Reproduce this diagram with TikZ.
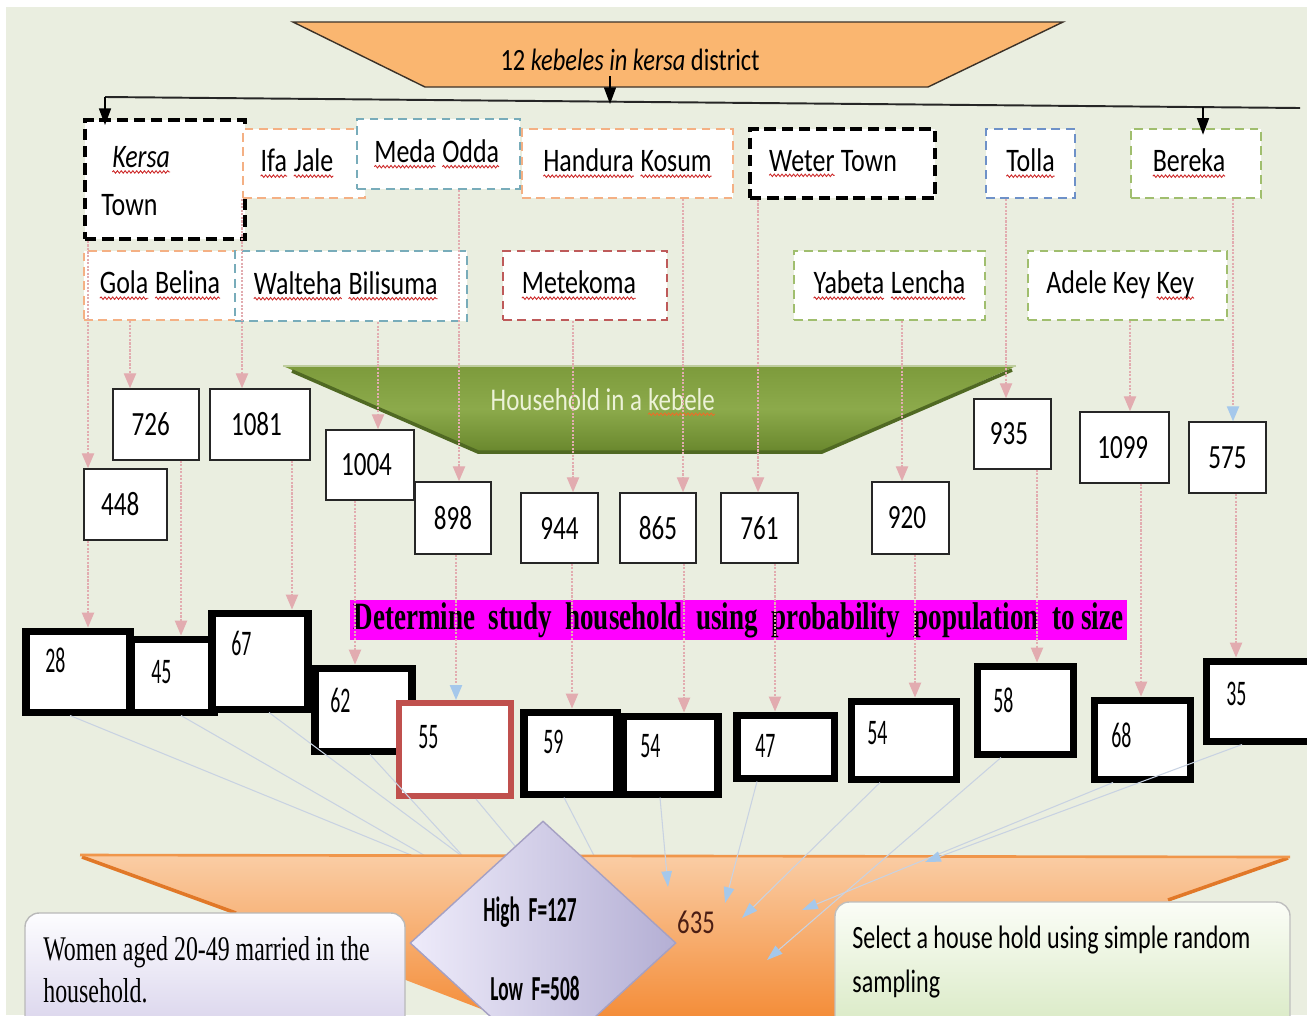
\documentclass[tikz,border=0pt]{standalone}
\usepackage{fontspec}
\usetikzlibrary{arrows.meta,calc,shapes.geometric,decorations.pathmorphing}
\setmainfont{Carlito}
\newfontfamily\labf[FakeStretch=0.79]{Carlito}
\newfontfamily\numf[FakeStretch=0.74]{Carlito}
\newfontfamily\narf[FakeStretch=0.55]{Carlito}
\newfontfamily\serf[FakeStretch=0.69]{Liberation Serif}
\newfontfamily\bserf[FakeStretch=0.70]{Liberation Serif}
\definecolor{bgc}{RGB}{234,238,224}
\definecolor{orT}{RGB}{250,182,112}
\definecolor{orTd}{RGB}{60,50,40}
\definecolor{orD}{RGB}{244,176,132}
\definecolor{tealD}{RGB}{120,172,186}
\definecolor{blueD}{RGB}{110,145,200}
\definecolor{greenD}{RGB}{160,190,110}
\definecolor{redD}{RGB}{190,90,90}
\definecolor{grT}{RGB}{125,155,60}
\definecolor{grM}{RGB}{140,170,75}
\definecolor{grB}{RGB}{105,135,45}
\definecolor{grD}{RGB}{80,105,35}
\definecolor{grTx}{RGB}{236,242,215}
\definecolor{pinkc}{RGB}{226,172,176}
\definecolor{bluel}{RGB}{200,210,226}
\definecolor{bluea}{RGB}{165,200,235}
\definecolor{magc}{RGB}{255,0,255}
\definecolor{red55}{RGB}{192,80,77}
\definecolor{orB1}{RGB}{250,205,165}
\definecolor{orB2}{RGB}{244,140,55}
\definecolor{orBe}{RGB}{240,150,75}
\definecolor{orBd}{RGB}{225,120,40}
\definecolor{dmL}{RGB}{238,235,250}
\definecolor{dmR}{RGB}{180,175,212}
\definecolor{dmD}{RGB}{165,160,195}
\definecolor{wmT}{RGB}{253,253,255}
\definecolor{wmB}{RGB}{214,208,234}
\definecolor{slT}{RGB}{251,253,247}
\definecolor{slB}{RGB}{214,232,192}
\definecolor{wavec}{RGB}{205,40,40}
\definecolor{waveo}{RGB}{235,110,40}
\definecolor{t635}{RGB}{75,30,20}
\newcommand\wvbase[2]{\tikz[baseline=(w.base)]{\node[shape=rectangle, inner sep=0pt, outer sep=0pt, minimum width=0pt, minimum height=0pt, draw=none, fill=none](w){#2}; \draw[draw=#1, fill=none, solid, line width=0.5pt, decorate, decoration={snake, amplitude=0.7pt, segment length=2.2pt}] ([yshift=-2.4pt]w.base west) -- ([yshift=-2.4pt]w.base east);}}
\newcommand\wv[1]{\wvbase{wavec}{#1}}
\newcommand\wvo[1]{\wvbase{waveo}{#1}}
\newcommand\mkbox[7]{\node[#2, minimum width={(#5-#3)*0.02cm}, minimum height={(#6-#4)*0.02cm}] (#1) at ({(#3+#5)/2},{(#4+#6)/2}) {#7};}
\begin{document}
\begin{tikzpicture}[x=0.02cm,y=-0.02cm,
  kb/.style={draw=#1, fill=white, line width=1.5pt, dash pattern=on 5pt off 3.2pt, inner sep=0pt, font=\labf\fontsize{18.7}{22}\selectfont},
  kbk/.style={draw=black, fill=white, line width=2.2pt, dash pattern=on 6.5pt off 3.3pt, inner sep=0pt, font=\labf\fontsize{18.7}{22}\selectfont},
  nb/.style={draw=black!85, fill=white, line width=0.9pt, inner sep=0pt, font=\numf\fontsize{19.3}{22}\selectfont},
  tb/.style={draw=#1, fill=white, line width=4pt, inner sep=0pt},
  tn/.style={anchor=west, inner sep=0pt, font=\narf\fontsize{20.5}{24}\selectfont},
  pc/.style={draw=pinkc, line width=0.8pt, dash pattern=on 1.2pt off 0.8pt, -{Triangle[width=7pt,length=8.5pt,color=pinkc,fill=pinkc]}},
  pcb/.style={draw=pinkc, line width=0.8pt, dash pattern=on 1.2pt off 0.8pt, -{Triangle[width=7pt,length=8.5pt,color=bluea,fill=bluea]}},
  bc/.style={draw=bluel, line width=0.6pt, -{Triangle[width=6pt,length=9pt,color=bluea,fill=bluea]}},
  bcn/.style={draw=bluel, line width=0.6pt},
  ka/.style={draw=black, line width=1pt, -{Triangle[width=6.8pt,length=9.5pt]}},
  banner/.style={fill=magc, inner sep=0pt, font=\bserf\bfseries\fontsize{22}{24}\selectfont},
  wbox/.style={draw=gray!55, top color=wmT, bottom color=wmB, rounded corners=8pt, inner sep=0pt, line width=0.8pt},
  sbox/.style={draw=gray!50, top color=slT, bottom color=slB, rounded corners=8pt, inner sep=0pt, line width=0.8pt}]
\useasboundingbox (0,0) rectangle (1307,1015);
% background
\fill[white] (0,0) rectangle (1307,1015);
\fill[bgc] (6,7) rectangle (1307,1015);
% top trapezoid
\filldraw[fill=orT, draw=orTd, line width=0.8pt] (293,22) -- (1063,22) -- (928,87) -- (425,87) -- cycle;
\node[font=\labf\fontsize{17.6}{20}\selectfont] (ttl) at (630,60) {12 \textit{kebeles in kersa} district};
% green trapezoid
\shade[top color=grT, bottom color=grB, middle color=grM] (283,366) -- (1016,366) -- (822,452) -- (478,452) -- cycle;
\draw[grD, line width=2pt] (292,371) -- (478,452) -- (822,452) -- (1012,370);
\draw[grT!50!white, line width=1pt] (283,366) -- (1016,366);
\node[font=\labf\fontsize{18}{20}\selectfont, text=grTx] (hh) at (603,402) {Household in a \wvo{kebele}};
% banner
\mkbox{det}{banner}{350}{600}{1127}{640}{Determine\ \ study\ \ household\ \ using\ \ probability\ \ population\ \ to size}
% kebele boxes
\mkbox{kersa}{kbk}{85}{120}{245}{239}{}
\node[anchor=west, align=left, inner sep=0pt, font=\labf\fontsize{18.7}{27}\selectfont] (kersaT) at (101,181) {\hspace*{6pt}\textit{\wv{Kersa}}\\Town};
\mkbox{ifa}{kb=orD}{243}{129}{365}{198}{\raisebox{-2pt}{\wv{Ifa} \wv{Jale}}\hspace*{8pt}}
\mkbox{meda}{kb=tealD}{357}{119}{520}{189}{\wv{Meda} \wv{Odda}\hspace*{2pt}}
\mkbox{handura}{kb=orD}{522}{129}{733}{198}{\raisebox{-2pt}{\wv{Handura} \wv{Kosum}}}
\mkbox{weter}{kbk}{750}{129}{935}{198}{\raisebox{-2pt}{\wv{Weter} Town}\hspace*{11pt}}
\mkbox{tolla}{kb=blueD}{986}{129}{1075}{198}{\raisebox{-2pt}{\wv{Tolla}}}
\mkbox{bereka}{kb=greenD}{1131}{129}{1261}{198}{\wv{Bereka}\hspace*{8pt}}
\mkbox{gola}{kb=orD}{84}{251}{236}{320}{\raisebox{-2pt}{\wv{Gola} \wv{Belina}}}
\mkbox{walteha}{kb=tealD}{235}{251}{467}{321}{\raisebox{-2pt}{\wv{Walteha} \wv{Bilisuma}}\hspace*{6pt}}
\mkbox{meteko}{kb=redD}{503}{251}{667}{320}{\raisebox{-2pt}{\wv{Metekoma}}\hspace*{7pt}}
\mkbox{yabeta}{kb=greenD}{794}{251}{985}{320}{\raisebox{-2pt}{\wv{Yabeta} \wv{Lencha}}}
\mkbox{adele}{kb=greenD}{1028}{251}{1227}{320}{\raisebox{-2pt}{Adele Key \wv{Key}}\hspace*{8pt}}
% top line and arrows
\coordinate (hlL) at (105,97);
\coordinate (hlR) at (1300,108);
\coordinate (ttb) at (610,76);
\coordinate (hlM) at (610,104);
\coordinate (hlB) at (1203,107);
\draw[line width=1.1pt, black!85] (hlL) -- (hlR);
\draw[ka] (ttb) -- (hlM);
\draw[ka, shorten >=-4pt] (hlL) -- (hlL |- kersa.north);
\draw[ka, shorten >=-4pt] (hlB) -- (hlB |- bereka.north);
% number boxes
\mkbox{n726}{nb}{113}{389}{199}{460}{726\hspace*{6pt}}
\mkbox{n1081}{nb}{210}{389}{310}{460}{1081\hspace*{4pt}}
\mkbox{n448}{nb}{84}{469}{167}{540}{448\hspace*{6pt}}
\mkbox{n1004}{nb}{326}{430}{414}{500}{1004\hspace*{4pt}}
\mkbox{n898}{nb}{415}{482}{491}{554}{898}
\mkbox{n944}{nb}{521}{493}{598}{563}{944}
\mkbox{n865}{nb}{620}{493}{696}{563}{865}
\mkbox{n761}{nb}{721}{493}{798}{563}{761}
\mkbox{n920}{nb}{872}{482}{949}{554}{920\hspace*{4pt}}
\mkbox{n935}{nb}{974}{399}{1051}{469}{935\hspace*{4pt}}
\mkbox{n1099}{nb}{1080}{412}{1169}{483}{1099\hspace*{2pt}}
\mkbox{n575}{nb}{1189}{422}{1266}{493}{575}
% thick boxes
\mkbox{b28}{tb=black}{26}{631}{130}{712}{}
\mkbox{b45}{tb=black}{131}{639}{214}{712}{}
\mkbox{b67}{tb=black}{212}{613}{308}{709}{}
\mkbox{b62}{tb=black}{315}{668}{412}{751}{}
\mkbox{b55}{tb=red55, line width=3.5pt}{399}{703}{511}{796}{}
\mkbox{b59}{tb=black}{524}{712}{617}{794}{}
\mkbox{b54a}{tb=black}{623}{716}{718}{794}{}
\mkbox{b47}{tb=black}{737}{715}{834}{778}{}
\mkbox{b54b}{tb=black}{851}{701}{956}{779}{}
\mkbox{b58}{tb=black}{977}{666}{1073}{754}{}
\mkbox{b68}{tb=black}{1094}{700}{1190}{779}{}
\mkbox{b35}{tb=black}{1206}{661}{1312}{741}{}
\node[tn] (t28) at (45,660) {28};
\node[tn] (t45) at (151,672) {45};
\node[tn] (t67) at (231,643) {67};
\node[tn] (t62) at (330,700) {62};
\node[tn] (t55) at (418,737) {55};
\node[tn] (t59) at (543,742) {59};
\node[tn] (t54a) at (640,746) {54};
\node[tn] (t47) at (755,746) {47};
\node[tn] (t54b) at (867,733) {54};
\node[tn] (t58) at (993,700) {58};
\node[tn] (t68) at (1111,735) {68};
\node[tn] (t35) at (1226,694) {35};
% lines to the bottom (hidden part under the orange band)
\coordinate (eL1) at (521,900);
\coordinate (eL2) at (502,900);
\coordinate (eL3) at (521,900);
\coordinate (eL4) at (503,900);
\coordinate (eL5) at (560,900);
\coordinate (eL6) at (617,900);
\draw[bcn] (b28.south -| 70,0) -- (eL1);
\draw[bcn] (b45.south -| 181,0) -- (eL2);
\draw[bcn] (b67.south -| 269,0) -- (eL3);
\draw[bcn] (b62.south -| 370,0) -- (eL4);
\draw[bcn] (b55.south -| 476,0) -- (eL5);
\draw[bcn] (b59.south -| 564,0) -- (eL6);
% bottom orange band
\shade[top color=orB1, bottom color=orB2] (80,855) -- (1290,857) -- (842,1020) -- (510,1020) -- cycle;
\draw[orBd, line width=2pt] (82,857) -- (236,913);
\draw[orBd, line width=2pt] (1288,858) -- (1168,900);
\draw[orBe, line width=1.5pt] (80,855) -- (1290,857);
% right lines with arrows
\coordinate (eR1) at (668,887);
\coordinate (eR2) at (725,903);
\coordinate (eR3) at (742,918);
\coordinate (eR4) at (767,960);
\coordinate (eR5) at (802,910);
\coordinate (eR6) at (925,862);
\draw[bc] (b54a.south -| 660,0) -- (eR1);
\draw[bc] (b47.south -| 757,0) -- (eR2);
\draw[bc] (b54b.south -| 880,0) -- (eR3);
\draw[bc] (b58.south -| 1001,0) -- (eR4);
\draw[bc] (b68.south -| 1113,0) -- (eR5);
\draw[bc] (b35.south -| 1242,0) -- (eR6);
% pink connectors kebele -> households
\draw[pc] (kersa.south -| 88,0) -- (n448.north -| 88,0);
\draw[pc] (gola.south -| 130,0) -- (n726.north -| 130,0);
\draw[pc] (ifa.south -| 242,0) -- (n1081.north -| 242,0);
\draw[pc] (walteha.south -| 378,0) -- (n1004.north -| 378,0);
\draw[pc] (meda.south -| 459,0) -- (n898.north -| 459,0);
\draw[pc] (meteko.south -| 573,0) -- (n944.north -| 573,0);
\draw[pc] (handura.south -| 683,0) -- (n865.north -| 683,0);
\draw[pc] (weter.south -| 758,0) -- (n761.north -| 758,0);
\draw[pc] (yabeta.south -| 902,0) -- (n920.north -| 902,0);
\draw[pc] (tolla.south -| 1006,0) -- (n935.north -| 1006,0);
\draw[pc] (adele.south -| 1130,0) -- (n1099.north -| 1130,0);
\draw[pcb] (bereka.south -| 1233,0) -- (n575.north -| 1233,0);
% households -> sample sizes
\draw[pc] (n448.south -| 88,0) -- (b28.north -| 88,0);
\draw[pc] (n726.south -| 181,0) -- (b45.north -| 181,0);
\draw[pc] (n1081.south -| 292,0) -- (b67.north -| 292,0);
\draw[pc] (n1004.south -| 355,0) -- (b62.north -| 355,0);
\draw[pcb] (n898.south -| 456,0) -- (b55.north -| 456,0);
\draw[pc] (n944.south -| 572,0) -- (b59.north -| 572,0);
\draw[pc] (n865.south -| 684,0) -- (b54a.north -| 684,0);
\draw[pc] (n761.south -| 775,0) -- (b47.north -| 775,0);
\draw[pc] (n920.south -| 915,0) -- (b54b.north -| 915,0);
\draw[pc] (n935.south -| 1037,0) -- (b58.north -| 1037,0);
\draw[pc] (n1099.south -| 1141,0) -- (b68.north -| 1141,0);
\draw[pc] (n575.south -| 1236,0) -- (b35.north -| 1236,0);
% diamond and bottom boxes
\node[diamond, draw=dmD, line width=0.8pt, left color=dmL, right color=dmR, minimum width={266*0.02cm}, minimum height={244*0.02cm}, inner sep=0pt] (dia) at (543,943) {};
\node[font=\narf\bfseries\fontsize{20}{22}\selectfont] (hi) at (530,912) {High\ \ F=127};
\node[font=\narf\bfseries\fontsize{20}{22}\selectfont] (lo) at (535,988) {Low\ \ F=508};
\node[font=\numf\fontsize{19}{22}\selectfont, text=t635] (n635) at (696,922) {635};
\mkbox{wom}{wbox}{25}{913}{405}{1040}{}
\node[anchor=north west, align=left, inner sep=0pt, font=\serf\fontsize{19.7}{23.8}\selectfont] (womT) at (43,936) {Women aged 20-49 married in the\\household.};
\mkbox{sel}{sbox}{835}{902}{1290}{1040}{}
\node[anchor=north west, align=left, inner sep=0pt, font=\numf\fontsize{18.5}{25}\selectfont] (selT) at (852,926) {Select a house hold using simple random\\sampling};
\end{tikzpicture}
\end{document}
